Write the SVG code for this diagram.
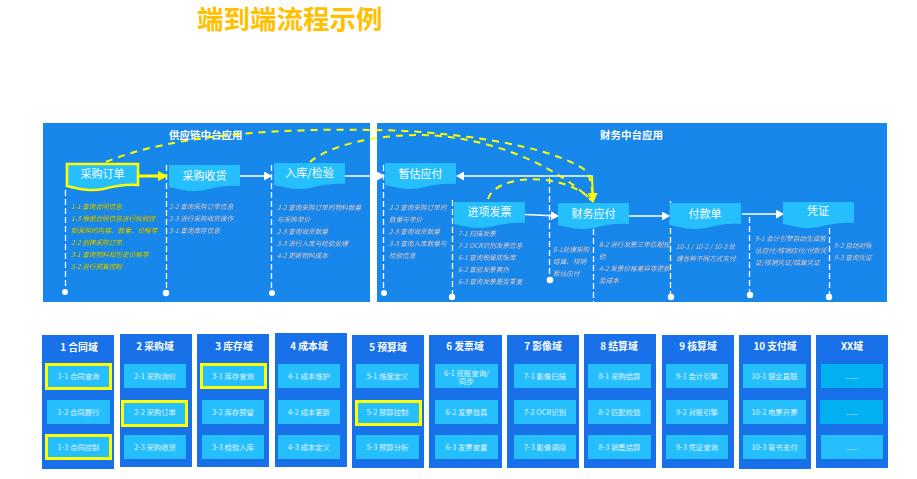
<svg xmlns="http://www.w3.org/2000/svg" xmlns:xlink="http://www.w3.org/1999/xlink" width="917" height="479" viewBox="0 0 917 479">
<style>
text{font-family:"Noto Sans CJK SC","Liberation Sans",sans-serif}
.title{font-size:26.500px;font-weight:700;fill:#FFC000}
.ptitle{font-size:10.500px;font-weight:700;fill:#fff}
.panel{fill:#1787EC}
.wave{fill:#25BFFD}
.ntext{font-size:11px;fill:#fff;text-anchor:middle}
.side{font-size:6.650px;font-style:italic;fill:#DCEBFA;filter:drop-shadow(0.8px 0.8px 0.4px rgba(0,30,90,.8))}
.side.y{fill:#E0EA10}
.wl{stroke:#fff;stroke-width:1.5;fill:none}
.dl{stroke:#fff;stroke-width:1.3;stroke-dasharray:6 3;fill:none}
.yd{stroke:#FFFF00;stroke-width:2;stroke-dasharray:7 6;fill:none}
.dot{fill:#fff}
.col{fill:#1871E8}
.item{fill:#25BFFD}
.item2{fill:#00B0F0}
.sel{stroke:#FFFF00;stroke-width:3}
.head{font-size:9.800px;font-weight:700;fill:#fff;text-anchor:middle}
.it{font-size:7.400px;fill:#E0F4FF;text-anchor:middle}
</style>
<defs>
<path id="wave" d="M0 0H71V21C58 20 48 22 36 25C22 28 10 24 0 22Z"/>
<marker id="wa" markerUnits="userSpaceOnUse" markerWidth="8" markerHeight="9" refX="7" refY="4.5" orient="auto"><path d="M0 0L8 4.5L0 9Z" fill="#fff"/></marker>
<marker id="ya" markerUnits="userSpaceOnUse" markerWidth="10" markerHeight="10" refX="9" refY="5" orient="auto"><path d="M0 0L10 5L0 10Z" fill="#FFFF00"/></marker>
</defs>
<text class="title" x="197" y="29">端到端流程示例</text>
<g id="panels">
<rect class="panel" x="43" y="123" width="327" height="179"/>
<rect class="panel" x="377" y="123" width="510" height="179"/>
<text class="ptitle" x="169" y="139">供应链中台应用</text>
<text class="ptitle" x="600" y="139">财务中台应用</text>
</g>
<g id="connectors">
<path class="dl" d="M65.500 190V290"/><circle class="dot" cx="65" cy="292" r="3"/>
<path class="dl" d="M166.500 165V290"/><circle class="dot" cx="166" cy="293" r="3.200"/>
<path class="dl" d="M271.500 165V290"/><circle class="dot" cx="272" cy="293" r="3"/>
<path class="dl" d="M383.500 165V290"/><circle class="dot" cx="384" cy="293" r="3"/>
<path class="dl" d="M452.500 200V294"/><circle class="dot" cx="452" cy="297" r="3.200"/>
<path class="dl" d="M549.500 178V278"/><circle class="dot" cx="550" cy="280" r="3.300"/>
<path class="dl" d="M593.500 229V302"/>
<path class="dl" d="M670.500 201V295"/><circle class="dot" cx="671" cy="297" r="3.200"/>
<path class="dl" d="M749.500 217V293"/><circle class="dot" cx="750" cy="295" r="3.200"/>
<path class="dl" d="M829.500 228V295"/><circle class="dot" cx="829" cy="297" r="3.200"/>
<path d="M139 176H167" stroke="#FFFF00" stroke-width="3" fill="none" marker-end="url(#ya)"/>
<path class="wl" d="M240 176H271" marker-end="url(#wa)"/>
<path class="wl" d="M345 176H384" marker-end="url(#wa)"/>
<path class="wl" d="M593 176H457" marker-end="url(#wa)"/>
<path class="wl" d="M525 214.500L558 216" marker-end="url(#wa)"/>
<path class="wl" d="M629 216H669" marker-end="url(#wa)"/>
<path class="wl" d="M742 214H783" marker-end="url(#wa)"/>
<path d="M592 176L593 202" stroke="#FFFF00" stroke-width="2" fill="none" marker-end="url(#ya)"/>
<path class="yd" d="M106 162C170 135 280 128 375 130C450 131 550 145 585 170C590 175 592 185 593 200"/>
<path class="yd" d="M310 162C330 145 375 135 418 135C480 135 550 160 592 201"/>
<path class="yd" d="M488 199C495 175 560 170 592 200"/>
</g>
<g id="node-po"><use href="#wave" x="67" y="164" class="wave" stroke="#FFFF00" stroke-width="2.600"/><text class="ntext" x="102.500" y="178">采购订单</text></g>
<g id="node-receipt"><use href="#wave" x="169" y="165" class="wave"/><text class="ntext" x="204.500" y="179.500">采购收货</text></g>
<g id="node-inbound"><use href="#wave" x="274" y="163" class="wave"/><text class="ntext" x="309.500" y="177">入库/检验</text></g>
<g id="node-accrual"><use href="#wave" x="385" y="163" class="wave"/><text class="ntext" x="420.500" y="177.500">暂估应付</text></g>
<g id="node-invoice"><use href="#wave" x="454" y="202" class="wave"/><text class="ntext" x="489.500" y="215.500">进项发票</text></g>
<g id="node-ap"><use href="#wave" x="558" y="203" class="wave"/><text class="ntext" x="593.500" y="217.500">财务应付</text></g>
<g id="node-payment"><use href="#wave" x="670" y="203" class="wave"/><text class="ntext" x="705" y="217.500">付款单</text></g>
<g id="node-voucher"><use href="#wave" x="783" y="202" class="wave"/><text class="ntext" x="818" y="215">凭证</text></g>
<g id="notes">
<g class="side y"><text x="71" y="208.500">1-1 查询合同信息</text><text x="71" y="220.500">1-3 根据合同信息进行校验控</text><text x="71" y="232.500">制采购的内容、数量、价格等</text><text x="71" y="244.500">2-2 创建采购订单</text><text x="71" y="256.500">3-1 查询物料和历史价格等</text><text x="71" y="268.500">5-2 进行预算控制</text></g>
<g class="side"><text x="169" y="209">2-2 查询采购订单信息</text><text x="169" y="221">2-3 进行采购收货操作</text><text x="169" y="233">3-1 查询库存信息</text></g>
<g class="side"><text x="277" y="209.500">2-2 查询采购订单的物料数量</text><text x="277" y="221.500">与采购单价</text><text x="277" y="233.500">2-3 查询收货数量</text><text x="277" y="245.500">3-3 进行入库与检验处理</text><text x="277" y="257.500">4-2 更新物料成本</text></g>
<g class="side"><text x="389" y="209.500">2-2 查询采购订单的</text><text x="389" y="221.500">数量与单价</text><text x="389" y="233.500">2-3 查询收货数量</text><text x="389" y="245.500">3-3 查询入库数量与</text><text x="389" y="257.500">检验信息</text></g>
<g class="side"><text x="458" y="235.500">7-1 扫描发票</text><text x="458" y="247.500">7-2 OCR识别发票信息</text><text x="458" y="259.500">6-1 查询税局底账库</text><text x="458" y="271.500">6-2 查验发票真伪</text><text x="458" y="283.500">6-3 查询发票是否重复</text></g>
<g class="side"><text x="553" y="251.500">8-1处理采购</text><text x="553" y="263.500">结算、核销</text><text x="553" y="275.500">暂估应付</text></g>
<g class="side"><text x="599" y="246.500">8-2 进行发票三单匹配校</text><text x="599" y="258.500">验</text><text x="599" y="270.500">4-2 发票价格差异等更新</text><text x="599" y="282.500">至成本</text></g>
<g class="side"><text x="676" y="248.500">10-1 / 10-2 / 10-3 处</text><text x="676" y="260.500">理各种不同方式支付</text></g>
<g class="side"><text x="755" y="240.500">9-1 会计引擎自动生成暂</text><text x="755" y="252.500">估应付/核销应付/付款凭</text><text x="755" y="264.500">证/核销凭证/结算凭证</text></g>
<g class="side"><text x="834" y="247.500">9-2 自动对账</text><text x="834" y="259.500">9-3 查询凭证</text></g>
</g>
<g id="domain-1"><rect class="col" x="42" y="335" width="72" height="134"/><text class="head" x="79" y="351">1 合同域</text>
<rect class="item sel" x="46.500" y="364.500" width="64" height="24"/><text class="it" x="78.500" y="379">1-1 合同查询</text>
<rect class="item" x="47" y="400" width="63" height="24"/><text class="it" x="78.500" y="415">1-2 合同履行</text>
<rect class="item sel" x="46.500" y="435.500" width="64" height="23"/><text class="it" x="78.500" y="450">1-3 合同控制</text></g>
<g id="domain-2"><rect class="col" x="120" y="334" width="72" height="133"/><text class="head" x="155" y="350">2 采购域</text>
<rect class="item" x="124" y="364" width="62" height="24"/><text class="it" x="155" y="379">2-1 采购询价</text>
<rect class="item sel" x="122.500" y="401.500" width="64" height="24"/><text class="it" x="155" y="415">2-2 采购订单</text>
<rect class="item" x="124" y="435" width="62" height="24"/><text class="it" x="155" y="450">2-3 采购收货</text></g>
<g id="domain-3"><rect class="col" x="197" y="334" width="72" height="133"/><text class="head" x="234" y="349.500">3 库存域</text>
<rect class="item sel" x="201.500" y="364.500" width="64" height="23"/><text class="it" x="233" y="379">3-1 库存查询</text>
<rect class="item" x="202" y="400" width="62" height="24"/><text class="it" x="233" y="415">3-2 库存预留</text>
<rect class="item" x="202" y="435" width="62" height="24"/><text class="it" x="233" y="450">3-3 检验入库</text></g>
<g id="domain-4"><rect class="col" x="275" y="333" width="72" height="134"/><text class="head" x="309" y="349.500">4 成本域</text>
<rect class="item" x="278" y="364" width="62" height="24"/><text class="it" x="309" y="379">4-1 成本维护</text>
<rect class="item" x="278" y="400" width="62" height="24"/><text class="it" x="309" y="415">4-2 成本更新</text>
<rect class="item" x="278" y="435" width="62" height="24"/><text class="it" x="309" y="450">4-3 成本定义</text></g>
<g id="domain-5"><rect class="col" x="352" y="335" width="72" height="133"/><text class="head" x="388" y="351">5 预算域</text>
<rect class="item" x="356" y="364" width="63" height="24"/><text class="it" x="387.500" y="379">5-1 维度定义</text>
<rect class="item sel" x="356.500" y="401.500" width="64" height="23"/><text class="it" x="387.500" y="415">5-2 预算控制</text>
<rect class="item" x="356" y="435" width="63" height="24"/><text class="it" x="387.500" y="450">5-3 预算分析</text></g>
<g id="domain-6"><rect class="col" x="429" y="335" width="73" height="133"/><text class="head" x="465" y="350">6 发票域</text>
<rect class="item" x="435" y="364" width="63" height="24"/><text class="it" x="466.500" y="375.500">6-1 底账查询/<tspan x="466.500" dy="8.500">同步</tspan></text>
<rect class="item" x="435" y="400" width="63" height="24"/><text class="it" x="466.500" y="415">6-2 发票验真</text>
<rect class="item" x="435" y="435" width="63" height="24"/><text class="it" x="466.500" y="450">6-3 发票查重</text></g>
<g id="domain-7"><rect class="col" x="507" y="335" width="72" height="133"/><text class="head" x="543" y="350">7 影像域</text>
<rect class="item" x="514" y="364" width="62" height="24"/><text class="it" x="545" y="379">7-1 影像扫描</text>
<rect class="item" x="514" y="400" width="62" height="24"/><text class="it" x="545" y="415">7-2 OCR识别</text>
<rect class="item" x="514" y="435" width="62" height="24"/><text class="it" x="545" y="450">7-3 影像调阅</text></g>
<g id="domain-8"><rect class="col" x="584" y="334" width="72" height="134"/><text class="head" x="619" y="349.500">8 结算域</text>
<rect class="item" x="588" y="364" width="63" height="24"/><text class="it" x="619.500" y="379">8-1 采购结算</text>
<rect class="item" x="588" y="400" width="63" height="24"/><text class="it" x="619.500" y="415">8-2 匹配校验</text>
<rect class="item" x="588" y="435" width="63" height="24"/><text class="it" x="619.500" y="450">8-3 销售结算</text></g>
<g id="domain-9"><rect class="col" x="662" y="335" width="72" height="133"/><text class="head" x="698" y="350">9 核算域</text>
<rect class="item" x="666" y="364" width="62" height="24"/><text class="it" x="697" y="379">9-1 会计引擎</text>
<rect class="item" x="666" y="400" width="62" height="24"/><text class="it" x="697" y="415">9-2 对账引擎</text>
<rect class="item" x="666" y="435" width="62" height="24"/><text class="it" x="697" y="450">9-3 凭证查询</text></g>
<g id="domain-10"><rect class="col" x="739" y="335" width="72" height="134"/><text class="head" x="775" y="350">10 支付域</text>
<rect class="item" x="743" y="364" width="63" height="24"/><text class="it" x="774.500" y="379">10-1 银企直联</text>
<rect class="item" x="743" y="400" width="63" height="24"/><text class="it" x="774.500" y="415">10-2 电票开票</text>
<rect class="item" x="743" y="435" width="63" height="24"/><text class="it" x="774.500" y="450">10-3 背书支付</text></g>
<g id="domain-xx"><rect class="col" x="816" y="335" width="72" height="133"/><text class="head" x="852" y="350">XX域</text>
<rect class="item2" x="821" y="364" width="62" height="24"/><text class="it" x="852" y="379">......</text>
<rect class="item2" x="820" y="400" width="63" height="24"/><text class="it" x="852" y="415">......</text>
<rect class="item" x="821" y="435" width="62" height="24"/><text class="it" x="852" y="450">......</text></g>
</svg>
